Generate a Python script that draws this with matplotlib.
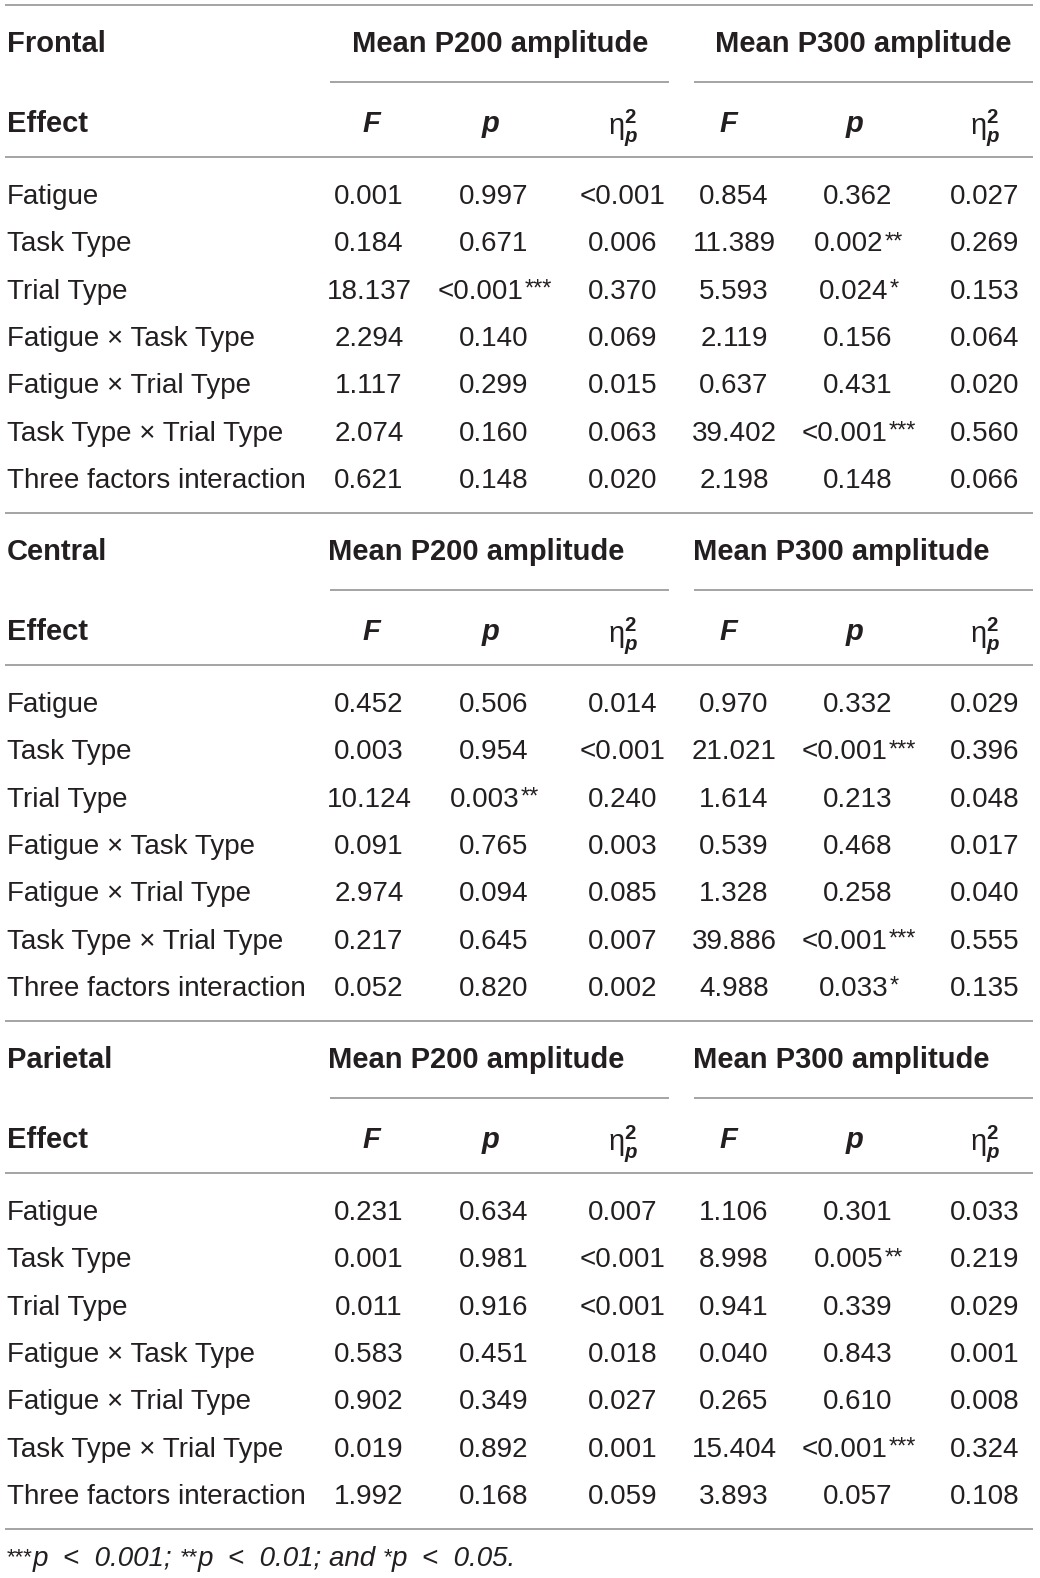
import matplotlib
matplotlib.use("Agg")
import matplotlib.pyplot as plt

plt.rcParams["mathtext.fontset"] = "custom"
plt.rcParams["mathtext.rm"] = "Liberation Sans"
plt.rcParams["mathtext.it"] = "Liberation Sans:italic"
plt.rcParams["mathtext.bf"] = "Liberation Sans:bold"
plt.rcParams["mathtext.bfit"] = "Liberation Sans:bold:italic"

# table contents
regions = ["Frontal", "Central", "Parietal"]
effects = ["Fatigue", "Task Type", "Trial Type", "Fatigue × Task Type",
           "Fatigue × Trial Type", "Task Type × Trial Type",
           "Three factors interaction"]
groups = ["Mean P200 amplitude", "Mean P300 amplitude"]

frontal_f200 = ["0.001", "0.184", "18.137", "2.294", "1.117", "2.074", "0.621"]
frontal_p200 = ["0.997", "0.671", "<0.001***", "0.140", "0.299", "0.160", "0.148"]
frontal_eta200 = ["<0.001", "0.006", "0.370", "0.069", "0.015", "0.063", "0.020"]
frontal_f300 = ["0.854", "11.389", "5.593", "2.119", "0.637", "39.402", "2.198"]
frontal_p300 = ["0.362", "0.002**", "0.024*", "0.156", "0.431", "<0.001***", "0.148"]
frontal_eta300 = ["0.027", "0.269", "0.153", "0.064", "0.020", "0.560", "0.066"]

central_f200 = ["0.452", "0.003", "10.124", "0.091", "2.974", "0.217", "0.052"]
central_p200 = ["0.506", "0.954", "0.003**", "0.765", "0.094", "0.645", "0.820"]
central_eta200 = ["0.014", "<0.001", "0.240", "0.003", "0.085", "0.007", "0.002"]
central_f300 = ["0.970", "21.021", "1.614", "0.539", "1.328", "39.886", "4.988"]
central_p300 = ["0.332", "<0.001***", "0.213", "0.468", "0.258", "<0.001***", "0.033*"]
central_eta300 = ["0.029", "0.396", "0.048", "0.017", "0.040", "0.555", "0.135"]

parietal_f200 = ["0.231", "0.001", "0.011", "0.583", "0.902", "0.019", "1.992"]
parietal_p200 = ["0.634", "0.981", "0.916", "0.451", "0.349", "0.892", "0.168"]
parietal_eta200 = ["0.007", "<0.001", "<0.001", "0.018", "0.027", "0.001", "0.059"]
parietal_f300 = ["1.106", "8.998", "0.941", "0.040", "0.265", "15.404", "3.893"]
parietal_p300 = ["0.301", "0.005**", "0.339", "0.843", "0.610", "<0.001***", "0.057"]
parietal_eta300 = ["0.033", "0.219", "0.029", "0.001", "0.008", "0.324", "0.108"]

columns = {
    "Frontal": [frontal_f200, frontal_p200, frontal_eta200,
                frontal_f300, frontal_p300, frontal_eta300],
    "Central": [central_f200, central_p200, central_eta200,
                central_f300, central_p300, central_eta300],
    "Parietal": [parietal_f200, parietal_p200, parietal_eta200,
                 parietal_f300, parietal_p300, parietal_eta300],
}

footnote = [("***", True), ("p  <  0.001; ", False), ("**", True),
            ("p  <  0.01; and ", False), ("*", True), ("p  <  0.05.", False)]

#######################################################
# layout (pixels)
#######################################################
W, H = 1040, 1578
INK = "#231f20"
RULE = "#8c8c8c"
FONT = "Liberation Sans"

col_x = [369, 494, 623, 734, 858, 985]
group_x = {"Frontal": [500, 863], "Central": [476, 841], "Parietal": [476, 841]}
sub_rules = [(330, 669), (694, 1033)]
section_h = 508
row_h = 47.33

fig = plt.figure(figsize=(W / 100, H / 100), dpi=100)
ax = fig.add_axes([0, 0, 1, 1])
ax.set_xlim(0, W)
ax.set_ylim(H, 0)
ax.axis("off")
renderer = fig.canvas.get_renderer()

body = dict(fontsize=20, color=INK, family=FONT, va="baseline")
bold = dict(fontsize=21, color=INK, family=FONT, weight="bold", va="baseline")


def rule(x0, x1, y):
    ax.plot([x0, x1], [y, y], color=RULE, lw=1.1, solid_capstyle="butt")


def cell(x, y, txt):
    num = txt.rstrip("*")
    stars = txt[len(num):]
    t = ax.text(x, y, num, ha="center", **body)
    if stars:
        s = ax.annotate(stars, xy=(1, y - 3), xycoords=(t, "data"),
                        xytext=(1, 0), textcoords="offset pixels",
                        ha="left", va="baseline", fontsize=17,
                        color=INK, family=FONT)
        w = s.get_window_extent(renderer).width
        t.set_x(x - w / 2)


def eta_head(x, y):
    ax.text(x, y + 2, r"$\mathrm{η}^{\mathbf{2}}_{\mathbfit{p}}$",
            ha="center", fontsize=21, color=INK, va="baseline")


rule(5, 1033, 5)
for k, region in enumerate(regions):
    off = k * section_h
    ax.text(7, 52 + off, region, ha="left", **bold)
    for g, name in enumerate(groups):
        ax.text(group_x[region][g], 52 + off, name, ha="center", **bold)
        rule(sub_rules[g][0], sub_rules[g][1], 82 + off)

    ax.text(7, 132 + off, "Effect", ha="left", **bold)
    for g in range(2):
        ax.text(col_x[3 * g] + 2 - 8 * g, 132 + off, "F", ha="center",
                style="italic", **bold)
        ax.text(col_x[3 * g + 1] - 3, 132 + off, "p", ha="center",
                style="italic", **bold)
        eta_head(col_x[3 * g + 2], 132 + off)
    rule(5, 1033, 157 + off)

    for i, eff in enumerate(effects):
        y = 204 + off + i * row_h
        ax.text(7, y, eff, ha="left", **body)
        for c, vals in enumerate(columns[region]):
            cell(col_x[c], y, vals[i])

    if k < len(regions) - 1:
        rule(5, 1033, 513 + off)
    else:
        rule(5, 1033, 1529)

# footnote
prev = None
for piece, is_star in footnote:
    kw = dict(color=INK, family=FONT, ha="left", va="baseline")
    if is_star:
        kw.update(fontsize=16)
        yy = 1563
    else:
        kw.update(fontsize=20, style="italic")
        yy = 1566
    if prev is None:
        prev = ax.text(7, yy, piece, **kw)
    else:
        prev = ax.annotate(piece, xy=(1, yy), xycoords=(prev, "data"), **kw)

fig.savefig("out.png", dpi=100)
